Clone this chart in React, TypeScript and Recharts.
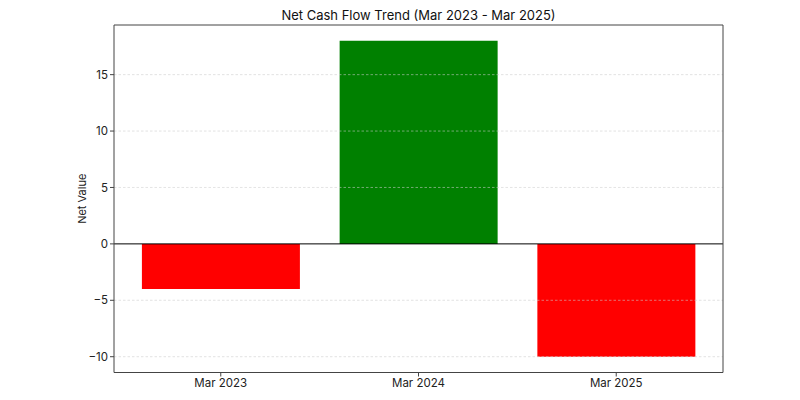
import React from "react";
import { ComposedChart, Bar, XAxis, YAxis, ReferenceLine, Cell } from "recharts";

const categories = ["Mar 2023", "Mar 2024", "Mar 2025"];
const netValues = [-4, 18, -10];
const yTicks = [-10, -5, 0, 5, 10, 15];
const xTicks = [0, 1, 2];

const data = categories.map((c, i) => ({ idx: i, label: c, value: netValues[i] }));

const FONT = "Inter, Roboto, 'DejaVu Sans', sans-serif";
const Y_MIN = -11.4;
const Y_MAX = 19.4;
const X_MIN = -0.54;
const X_MAX = 2.54;

export default function App() {
  return (
    <div style={{ position: "absolute", left: 0, top: 0, width: 800, height: 400, background: "#fff", fontFamily: FONT }}>
      <div style={{ position: "absolute", left: 114, width: 609, top: 7, textAlign: "center", fontSize: 13, color: "#111" }}>
        Net Cash Flow Trend (Mar 2023 - Mar 2025)
      </div>
      <ComposedChart
        width={800}
        height={400}
        data={data}
        margin={{ top: 25, right: 77, bottom: 0, left: 64 }}
        style={{ fontFamily: FONT }}
      >
        <XAxis
          type="number"
          dataKey="idx"
          domain={[X_MIN, X_MAX]}
          ticks={xTicks}
          allowDataOverflow
          tickFormatter={(v: number) => categories[v]}
          height={27.5}
          stroke="#444"
          tickSize={4}
          tick={{ fill: "#222", fontSize: 11.5 }}
        />
        <YAxis
          type="number"
          domain={[Y_MIN, Y_MAX]}
          ticks={yTicks}
          allowDataOverflow
          width={50}
          stroke="#444"
          tickSize={4}
          tickFormatter={(v: number) => (v < 0 ? "\u2212" + Math.abs(v) : String(v))}
          tick={{ fill: "#222", fontSize: 11.5 }}
          label={{ value: "Net Value", angle: -90, position: "insideLeft", offset: 18, style: { fill: "#222", fontSize: 11, textAnchor: "middle" } }}
        />
        <Bar dataKey="value" barSize={158} isAnimationActive={false}>
          {data.map((d, i) => (
            <Cell key={i} fill={d.value >= 0 ? "#008000" : "#ff0000"} />
          ))}
        </Bar>
        {yTicks.filter((t) => t !== 0).map((t) => (
          <ReferenceLine key={t} y={t} stroke="#ccc" strokeOpacity={0.7} strokeDasharray="2.5 2" strokeWidth={0.8} />
        ))}
        <ReferenceLine y={0} stroke="#000" strokeWidth={1} />
        <ReferenceLine y={Y_MAX} stroke="#444" strokeWidth={1} />
        <ReferenceLine x={X_MAX} stroke="#444" strokeWidth={1} />
      </ComposedChart>
    </div>
  );
}
